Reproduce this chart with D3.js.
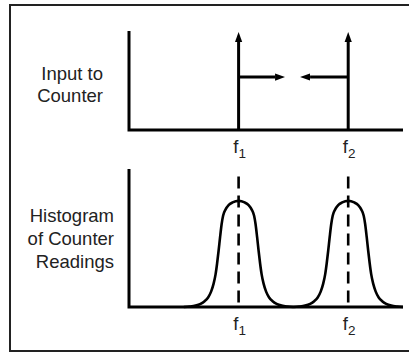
<!DOCTYPE html>
<html>
<head>
<meta charset="utf-8">
<script src="https://cdn.jsdelivr.net/npm/d3@7"></script>
<style>
  body { margin: 0; background: #fff; }
  svg { display: block; }
  text { font-family: "Liberation Sans", Arial, sans-serif; fill: #222; }
</style>
</head>
<body>
<div id="chart"></div>
<script>
// frequency positions of the two input tones (arbitrary units)
var freqs = [4, 8],
    freqSubs = ["1", "2"],
    impulseHeights = [0.98, 0.98];

// horizontal "sweep" arrows in top panel: [from, to] along frequency, at a level
var sweepLevel = 0.535,
    sweepFrom = [4, 8],
    sweepTo = [5.66, 6.28];

// shape of one histogram peak (offset from centre, count)
var peakOffset = [-2.0, -1.788, -1.569, -1.387, -1.241, -1.113, -1.004, -0.912, -0.839, -0.785, -0.73, -0.675, -0.62, -0.566, -0.474, -0.365, -0.219, 0,
                  0.219, 0.365, 0.474, 0.566, 0.62, 0.675, 0.73, 0.785, 0.839, 0.912, 1.004, 1.113, 1.241, 1.387, 1.569, 1.788, 2.0],
    peakCount  = [0, 0.4, 1.3, 3, 5.5, 9, 14.5, 22, 31, 41, 53, 66, 78, 86, 92, 96, 98.5, 100,
                  98.5, 96, 92, 86, 78, 66, 53, 41, 31, 22, 14.5, 9, 5.5, 3, 1.3, 0.4, 0];
var dashTop = 123;

var topLabel = ["Input to", "Counter"],
    bottomLabel = ["Histogram", "of Counter", "Readings"];

var W = 409, H = 354;

var svg = d3.select("#chart").append("svg")
  .attr("width", W)
  .attr("height", H);

// outer frame (right side runs off the picture)
svg.append("rect")
  .attr("x", 10).attr("y", 5)
  .attr("width", 420).attr("height", 346)
  .attr("fill", "none")
  .attr("stroke", "#222")
  .attr("stroke-width", 2);

var defs = svg.append("defs");
defs.append("marker")
  .attr("id", "head")
  .attr("markerUnits", "userSpaceOnUse")
  .attr("viewBox", "0 -4 10 8")
  .attr("refX", 0).attr("refY", 0)
  .attr("markerWidth", 10).attr("markerHeight", 8)
  .attr("orient", "auto")
  .append("path")
  .attr("d", "M0,-3.6L10,0L0,3.6Z")
  .attr("fill", "#000");

var x = d3.scaleLinear().domain([0, 10]).range([129, 403]);
var yTop = d3.scaleLinear().domain([0, 1]).range([130, 31]);
var yBot = d3.scaleLinear().domain([0, 130]).range([307, 169]);

function shorten(p0, p1, len) {
  var dx = p1[0] - p0[0], dy = p1[1] - p0[1];
  var d = Math.sqrt(dx * dx + dy * dy);
  return [p1[0] - dx / d * len, p1[1] - dy / d * len];
}

// ===== top panel: input to counter =====
var gTop = svg.append("g");

gTop.append("path")
  .attr("d", d3.line()([[x(0), yTop(1)], [x(0), yTop(0)], [x(10), yTop(0)]]))
  .attr("fill", "none").attr("stroke", "#000").attr("stroke-width", 3);

freqs.forEach(function(f, i) {
  var p0 = [x(f), yTop(0)], p1 = [x(f), yTop(impulseHeights[i])];
  var e = shorten(p0, p1, 9);
  gTop.append("line")
    .attr("x1", p0[0]).attr("y1", p0[1])
    .attr("x2", e[0]).attr("y2", e[1])
    .attr("stroke", "#000").attr("stroke-width", 3)
    .attr("marker-end", "url(#head)");
});

sweepFrom.forEach(function(f, i) {
  var p0 = [x(f), yTop(sweepLevel)], p1 = [x(sweepTo[i]), yTop(sweepLevel)];
  var e = shorten(p0, p1, 9);
  gTop.append("line")
    .attr("x1", p0[0]).attr("y1", p0[1])
    .attr("x2", e[0]).attr("y2", e[1])
    .attr("stroke", "#000").attr("stroke-width", 3)
    .attr("marker-end", "url(#head)");
});

// ===== bottom panel: histogram =====
var gBot = svg.append("g");

var peakLine = d3.line()
  .x(function(d) { return x(d[0]); })
  .y(function(d) { return yBot(d[1]); })
  .curve(d3.curveMonotoneX);

freqs.forEach(function(f) {
  var pts = peakOffset.map(function(o, j) { return [f + o, peakCount[j]]; });
  gBot.append("path")
    .attr("d", peakLine(pts))
    .attr("fill", "none").attr("stroke", "#000").attr("stroke-width", 2.6);

  gBot.append("line")
    .attr("x1", x(f)).attr("x2", x(f))
    .attr("y1", yBot(dashTop)).attr("y2", yBot(0))
    .attr("stroke", "#000").attr("stroke-width", 2.6)
    .attr("stroke-dasharray", "12,7");
});

gBot.append("path")
  .attr("d", d3.line()([[x(0), yBot(130)], [x(0), yBot(0)], [x(10), yBot(0)]]))
  .attr("fill", "none").attr("stroke", "#000").attr("stroke-width", 3);

// ===== f labels =====
function fLabel(g, f, sub, baseY) {
  var t = g.append("text")
    .attr("x", x(f) + 1)
    .attr("y", baseY)
    .attr("text-anchor", "middle")
    .style("font-size", "18.5px");
  t.append("tspan").text("f");
  t.append("tspan").attr("dy", 5).style("font-size", "13.5px").text(sub);
}
freqs.forEach(function(f, i) {
  fLabel(gTop, f, freqSubs[i], yTop(0) + 23);
  fLabel(gBot, f, freqSubs[i], yBot(0) + 23);
});

// ===== side labels =====
topLabel.forEach(function(s, i) {
  svg.append("text")
    .attr("x", 103).attr("y", 79.5 + i * 22.5)
    .attr("text-anchor", "end")
    .style("font-size", "18.5px")
    .text(s);
});
bottomLabel.forEach(function(s, i) {
  svg.append("text")
    .attr("x", 114).attr("y", 221.5 + i * 23)
    .attr("text-anchor", "end")
    .style("font-size", "18.5px")
    .text(s);
});
</script>
</body>
</html>
